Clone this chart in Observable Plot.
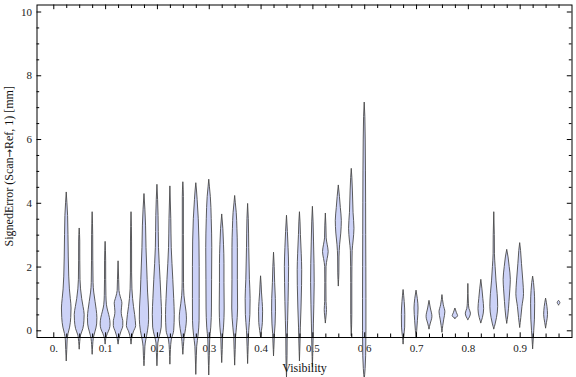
<!DOCTYPE html>
<html><head><meta charset="utf-8">
<script src="https://cdn.jsdelivr.net/npm/d3@7"></script>
<script src="https://cdn.jsdelivr.net/npm/@observablehq/plot@0.6"></script>
<style>html,body{margin:0;padding:0;background:#fff;} svg{display:block}</style>
</head><body><div id="chart"></div>
<script>
// Visibility bin centres (one violin each)
const visibility = [0.025,0.05,0.075,0.1,0.125,0.15,0.175,0.2,0.225,0.25,0.275,0.3,0.325,0.35,0.375,0.4,0.425,0.45,0.475,0.5,0.525,0.55,0.575,0.6,
  0.675,0.7,0.725,0.75,0.775,0.8,0.825,0.85,0.875,0.9,0.925,0.95,0.975];

// Violin profiles: [signed error (mm), relative density]
const violinProfiles = [
  [[-0.95,0],[-0.6,1.2],[-0.3,2],[-0.1,4],[0.1,7.5],[0.4,10],[0.7,10.7],[1.0,9],[1.3,7],[1.7,5.5],[2.3,4.5],[3.0,3.8],[3.6,3],[4.0,1.5],[4.34,0]],
  [[-0.58,0],[-0.35,1.2],[-0.15,3],[0.05,8],[0.3,10.5],[0.5,11],[0.75,8.5],[1.0,5.5],[1.3,3],[1.6,1.8],[2.2,1.3],[2.8,1.2],[3.21,0]],
  [[-0.74,0],[-0.45,1.2],[-0.25,2.5],[-0.05,6],[0.2,10],[0.4,10.5],[0.65,9],[0.9,6.5],[1.2,3.5],[1.5,2],[2.2,1.4],[3.0,1.2],[3.72,0]],
  [[-0.42,0],[-0.25,1.5],[-0.1,5],[0.05,9.5],[0.2,11],[0.4,9.5],[0.6,6],[0.8,3],[1.1,1.8],[1.6,1.3],[2.2,1.2],[2.79,0]],
  [[-0.42,0],[-0.25,2],[-0.05,6],[0.15,10.5],[0.3,10.5],[0.45,8],[0.6,7],[0.85,8.5],[1.05,5],[1.25,2],[1.6,1.3],[2.18,0]],
  [[-0.42,0],[-0.25,1.5],[-0.05,5],[0.15,10.3],[0.3,9.5],[0.5,8],[0.75,5.5],[1.0,3.5],[1.3,2],[1.8,1.3],[2.8,1.2],[3.72,0]],
  [[-1.1,0],[-0.8,1.2],[-0.5,2],[-0.3,4],[0,8],[0.35,10.3],[0.7,10],[1.2,8],[1.6,7],[2.6,4.5],[3.3,3.5],[3.8,2],[4.29,0]],
  [[-1.1,0],[-0.7,1.2],[-0.4,2],[-0.2,5],[0.1,9.5],[0.5,10.3],[1.0,9],[1.6,7],[2.6,3.5],[3.6,2.5],[4.1,1.5],[4.58,0]],
  [[-1.05,0],[-0.6,1.2],[-0.3,3],[0,8.5],[0.5,9.7],[1.0,8.5],[1.6,6.5],[2.6,3],[3.5,2],[4.53,0]],
  [[-0.74,0],[-0.5,1.2],[-0.2,3],[0.05,6],[0.35,8],[0.6,7],[0.85,4.5],[1.1,2.5],[1.5,1.5],[3.0,1.2],[4.2,1.2],[4.66,0]],
  [[-1.37,0],[-0.8,1.2],[-0.5,2],[-0.15,5],[0.3,7.3],[1.0,7.5],[2.0,7.5],[2.8,7],[3.5,5.5],[4.1,3],[4.4,1.5],[4.63,0]],
  [[-1.39,0],[-0.8,1.2],[-0.3,2],[0.1,4.5],[0.7,6],[1.6,6.3],[2.6,6.7],[3.5,5.5],[4.2,3.5],[4.5,1.5],[4.74,0]],
  [[-1.0,0],[-0.6,1.2],[-0.2,2],[0.1,4],[0.7,5.5],[1.5,5],[2.1,5],[2.7,4],[3.2,2.5],[3.65,0]],
  [[-1.08,0],[-0.6,1.2],[-0.2,2],[0.1,4],[0.7,6.5],[1.6,6],[2.6,6],[3.2,5],[3.7,3.5],[4.0,1.5],[4.23,0]],
  [[-1.03,0],[-0.5,1.2],[0,2.5],[0.5,5],[1.0,5.5],[1.6,4],[2.6,2.5],[3.5,1.5],[3.98,0]],
  [[-0.21,0],[0,2],[0.25,4],[0.6,4.5],[0.9,3.5],[1.2,2],[1.45,1.2],[1.71,0]],
  [[-0.79,0],[-0.4,1.2],[-0.1,2],[0.2,3.5],[0.6,4.3],[1.0,4],[1.5,2.5],[2.0,1.5],[2.45,0]],
  [[-1.47,0],[-0.8,1.2],[-0.2,1.5],[0.3,2.5],[0.9,3.5],[1.5,4.3],[2.0,4.7],[2.6,3.5],[3.1,2],[3.61,0]],
  [[-0.95,0],[-0.4,1.2],[0.1,2],[0.7,3.5],[1.4,4.7],[1.9,5],[2.4,4],[3.0,2.2],[3.4,1.3],[3.72,0]],
  [[-1.14,0],[-0.5,1.2],[0.2,2.2],[0.8,3.2],[1.5,4],[2.1,3.6],[2.8,2.5],[3.4,1.5],[3.89,0]],
  [[0.24,0],[0.45,1.5],[0.65,2.5],[0.9,1.5],[1.5,1.2],[2.0,1.5],[2.25,4],[2.47,6.3],[2.7,4],[2.9,1.8],[3.3,1.2],[3.68,0]],
  [[1.4,0],[1.8,1.2],[2.3,1.5],[2.7,3],[3.05,5.5],[3.45,6.7],[3.85,4.5],[4.2,2.5],[4.56,0]],
  [[-0.16,0],[0.5,1.2],[1.5,1.2],[2.0,1.4],[2.5,2],[2.8,4],[3.2,6],[3.7,4],[4.4,2.5],[4.8,1.3],[5.08,0]],
  [[-1.55,0],[-1.2,2],[-0.8,3.2],[0,3.8],[1.0,3.8],[2.0,3.6],[3.0,3.3],[4.0,3.1],[5.0,2.8],[6.0,2.2],[6.7,1.4],[7.16,0]],
  [[-0.42,0],[-0.2,1.3],[0.1,3.5],[0.5,3.8],[0.9,2.5],[1.1,1.3],[1.28,0]],
  [[-0.23,0],[0,1.5],[0.3,3],[0.7,4.5],[1.0,2.8],[1.26,0]],
  [[0.05,0],[0.2,2.5],[0.44,6.5],[0.7,3],[0.94,0]],
  [[-0.05,0],[0.15,1.8],[0.35,4],[0.58,6.5],[0.8,3],[1.12,0]],
  [[0.38,0],[0.46,6],[0.55,3.5],[0.7,0]],
  [[0.34,0],[0.42,3.5],[0.54,5.7],[0.68,2.5],[0.85,1.2],[1.47,0]],
  [[0.24,0],[0.4,3.5],[0.68,6.3],[1.0,4.5],[1.3,2.5],[1.6,0]],
  [[0.05,0],[0.2,3],[0.4,6],[0.75,8.7],[1.15,7.5],[1.55,5],[2.0,3],[2.4,1.5],[3.0,1.2],[3.72,0]],
  [[0.23,0],[0.45,2.3],[0.9,5],[1.3,7],[1.6,8],[2.0,5.5],[2.3,3],[2.54,0]],
  [[0.1,0],[0.4,2.5],[0.75,5],[1.15,8.5],[1.55,7],[2.1,4],[2.5,2],[2.75,0]],
  [[-0.57,0],[-0.3,1.2],[0,2.5],[0.35,4],[0.85,4.5],[1.25,3.5],[1.5,2],[1.7,0]],
  [[0.08,0],[0.25,2],[0.5,4.3],[0.75,3],[1.01,0]],
  [[0.8,0],[0.87,3],[0.94,0]]
];

const xMajorTicks = [0,0.1,0.2,0.3,0.4,0.5,0.6,0.7,0.8,0.9];
const xTickLabels = ["0.","0.1","0.2","0.3","0.4","0.5","0.6","0.7","0.8","0.9"];
const yMajorTicks = [0,2,4,6,8,10];
const yTickLabels = ["0","2","4","6","8","10"];
const xLabel = "Visibility";
const yLabel = "SignedError (Scan\u2192Ref, 1) [mm]";

// Layout
const W = 576, H = 377, mL = 36.5, mR = 4.5, mT = 4.5, mB = 40;
const plotW = W - mL - mR, plotH = H - mT - mB;
const xDomain = [-0.0324, 1.0], yDomain = [-0.21, 10.22];
const pxPerUnit = plotW / (xDomain[1] - xDomain[0]);
const halfWidth = d => d * 0.9 / 2 / pxPerUnit;

const rows = [];
visibility.forEach((v, i) => violinProfiles[i].forEach(([e, d]) => rows.push({vis: v, err: e, dens: d})));

const xMinor = d3.range(1, 40).filter(i => i % 4 !== 0).map(i => i * 0.025);
const yMinor = d3.range(1, 21).filter(i => i % 4 !== 0).map(i => i * 0.5);

const tickColor = "#000";
const chart = Plot.plot({
  width: W, height: H,
  marginLeft: mL, marginRight: mR, marginTop: mT, marginBottom: mB,
  x: {domain: xDomain},
  y: {domain: yDomain},
  style: {fontFamily: "'Liberation Serif', 'Times New Roman', serif", fontSize: "11px", background: "#fff", color: "#222", overflow: "visible"},
  marks: [
    Plot.axisX({ticks: xMajorTicks, tickSize: 0, tickPadding: 6.5, label: null, tickFormat: d => xTickLabels[xMajorTicks.indexOf(d)]}),
    Plot.axisY({ticks: yMajorTicks, tickSize: 0, tickPadding: 5, label: null, tickFormat: d => yTickLabels[yMajorTicks.indexOf(d)]}),
    Plot.areaX(rows, {
      y: "err",
      x1: d => d.vis - halfWidth(d.dens),
      x2: d => d.vis + halfWidth(d.dens),
      z: "vis",
      fill: "#ccd2f7",
      stroke: "#4a4a4a",
      strokeWidth: 0.9,
      curve: "monotone-y"
    }),
    Plot.frame({stroke: "#000", strokeWidth: 1}),
    // bottom ticks
    Plot.ruleX(xMinor, {x: d => d, insetTop: plotH - 3.5, stroke: tickColor}),
    Plot.ruleX(xMajorTicks, {x: d => d, insetTop: plotH - 4.7, stroke: tickColor}),
    // top ticks
    Plot.ruleX(xMinor, {x: d => d, insetBottom: plotH - 3.5, stroke: tickColor}),
    Plot.ruleX(xMajorTicks, {x: d => d, insetBottom: plotH - 4.7, stroke: tickColor}),
    // left ticks
    Plot.ruleY(yMinor, {y: d => d, insetRight: plotW - 2.7, stroke: tickColor}),
    Plot.ruleY(yMajorTicks, {y: d => d, insetRight: plotW - 4.7, stroke: tickColor}),
    // right ticks
    Plot.ruleY(yMinor, {y: d => d, insetLeft: plotW - 2.7, stroke: tickColor}),
    Plot.ruleY(yMajorTicks, {y: d => d, insetLeft: plotW - 4.7, stroke: tickColor}),
    Plot.text([xLabel], {text: d => d, frameAnchor: "bottom", lineAnchor: "middle", textAnchor: "middle", dy: 31, fontSize: 12, fill: "#111"}),
    Plot.text([yLabel], {text: d => d, frameAnchor: "left", lineAnchor: "middle", textAnchor: "middle", rotate: -90, dx: -28, dy: -5, fontSize: 12, fill: "#111"})
  ]
});
// render the arrow with a font that has a full-size glyph for it
chart.querySelectorAll("text").forEach(t => {
  if (t.textContent === yLabel) {
    const [a, b] = yLabel.split("\u2192");
    t.textContent = "";
    const ns = "http://www.w3.org/2000/svg";
    const s1 = document.createElementNS(ns, "tspan"); s1.textContent = a;
    const s2 = document.createElementNS(ns, "tspan"); s2.textContent = "\u2192"; s2.setAttribute("font-family", "'DejaVu Sans'"); s2.setAttribute("font-size", "10");
    const s3 = document.createElementNS(ns, "tspan"); s3.textContent = b;
    t.append(s1, s2, s3);
  }
});
document.getElementById("chart").appendChild(chart);
</script>
</body></html>
